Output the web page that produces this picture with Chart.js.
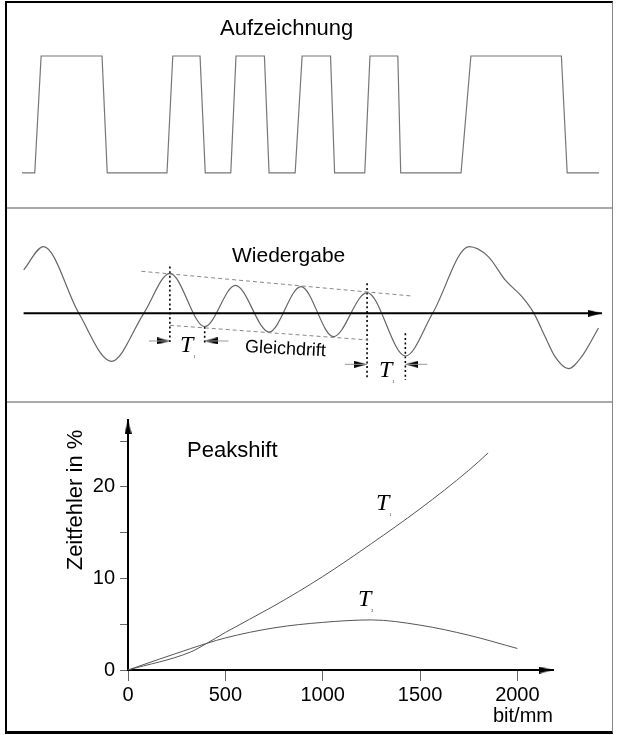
<!DOCTYPE html>
<html>
<head>
<meta charset="utf-8">
<script src="https://cdn.jsdelivr.net/npm/chart.js@4.4.1/dist/chart.umd.min.js"></script>
<style>
  body { margin: 0; background: #fff; width: 617px; height: 735px; position: relative; overflow: hidden;
         font-family: "Liberation Sans", Arial, sans-serif; }
  canvas { position: absolute; left: 0; }
  #rec  { top: 3px; }
  #play { top: 209px; }
  #peak { top: 403px; }
  .frame { position: absolute; left: 5px; top: 1px; width: 605px; height: 728px; z-index: 2;
           border: 2px solid #000; border-right: 1px solid #888; border-bottom-width: 3px; }
  .rule { position: absolute; left: 7px; width: 605px; height: 2px; background: #aaa; z-index: 2; }
  .lbl { position: absolute; white-space: nowrap; line-height: 1; color: #000; z-index: 3; }
  .t { font-family: "Liberation Serif", "Times New Roman", serif; font-style: italic; font-size: 24px; }
  .t sub { font-size: 4px; font-style: normal; vertical-align: -6px; }
</style>
</head>
<body>
<div class="frame"></div>
<div class="rule" style="top:207px"></div>
<div class="rule" style="top:401px"></div>

<canvas id="rec" width="617" height="204"></canvas>
<canvas id="play" width="617" height="192"></canvas>
<canvas id="peak" width="617" height="328"></canvas>

<div class="lbl" style="left:220px; top:17.4px; font-size:22px">Aufzeichnung</div>
<div class="lbl" style="left:232px; top:244px; font-size:21px">Wiedergabe</div>
<div class="lbl" style="left:245px; top:337px; font-size:18px; transform:rotate(3deg); transform-origin:0 50%">Gleichdrift</div>
<div class="lbl t" style="left:180px; top:332px">T<sub>1</sub></div>
<div class="lbl t" style="left:379px; top:357px">T<sub>1</sub></div>

<div class="lbl" style="left:187px; top:439.4px; font-size:22px">Peakshift</div>
<div class="lbl" style="left:75px; top:500px; font-size:22px; transform:translate(-50%,-50%) rotate(-90deg)">Zeitfehler in %</div>
<div class="lbl t" style="left:376px; top:490px">T<sub>1</sub></div>
<div class="lbl t" style="left:358px; top:586px">T<sub>2</sub></div>

<script>
// Aufzeichnung: Schreibstrom, Zeit in willkürlichen Einheiten, Pegel 0 / 1
const recTime  = [0, 2.2, 3.3, 13.8, 14.7, 25.0, 26.0, 30.7, 31.6, 36.0, 36.9, 41.8, 42.6,
                  47.1, 48.3, 53.2, 53.9, 59.1, 60.0, 64.8, 65.3, 75.7, 77.4, 93.0, 94.0, 99.5];
const recLevel = [0, 0, 1, 1, 0, 0, 1, 1, 0, 0, 1, 1, 0,
                  0, 1, 1, 0, 0, 1, 1, 0, 0, 1, 1, 0, 0];

// Wiedergabe: Lesesignal (Spitzen, Nulldurchgänge, Flanken)
const playTime  = [0.3, 3.7, 9.8, 15.4, 21.0, 25.5, 31.5, 36.8, 42.6, 48.1, 53.7, 59.5,
                   66.1, 70.8, 77.1, 80.4, 83.3, 86.2, 88.2, 90.2, 91.9, 94.2, 96.5, 99.4];
const playLevel = [0.65, 1.0, 0, -0.72, 0, 0.60, -0.20, 0.42, -0.28, 0.40, -0.35, 0.31,
                   -0.64, 0, 1.0, 0.85, 0.50, 0.25, 0.01, -0.35, -0.65, -0.83, -0.65, -0.22];

// Hüllkurven der Gleichdrift
const driftUpperTime  = [20.6, 67.1];
const driftUpperLevel = [0.63, 0.26];
const driftLowerTime  = [25.5, 59.7];
const driftLowerLevel = [-0.18, -0.40];

// Markierungen für T: Zeitpunkt, oberes und unteres Ende der Punktlinie
const markTime  = [25.5, 31.5, 59.5, 66.1];
const markTop   = [0.70, -0.20, 0.45, -0.30];
const markBot   = [-0.43, -0.45, -1.0, -1.0];
// Maßpfeile: Höhe, Start, Spitze
const arrowLevel = [-0.415, -0.415, -0.765, -0.765];
const arrowFrom  = [21.9, 35.6, 55.7, 69.9];
const arrowTo    = [25.5, 31.5, 59.5, 66.1];

// Peakshift: Zeitfehler in % über Schreibdichte in bit/mm
const densT1 = [0, 320, 400, 500, 750, 1000, 1250, 1500, 1750, 1850];
const errT1  = [0, 1.95, 2.85, 4.1, 7.0, 10.2, 13.8, 17.6, 21.8, 23.7];
const densT2 = [0, 320, 500, 750, 1000, 1250, 1500, 1750, 2000];
const errT2  = [0, 2.33, 3.5, 4.6, 5.2, 5.47, 4.9, 3.8, 2.35];
const densTicks = [0, 500, 1000, 1500, 2000];
const errTicks  = [0, 5, 10, 15, 20, 25];
const errLabels = [0, 10, 20];

Chart.defaults.font.family = '"Liberation Sans", Arial, sans-serif';

const T_MIN = -3.79, T_MAX = 102.59;
const pts = (xs, ys) => xs.map((x, i) => ({ x: x, y: ys[i] }));

function arrowHead(len, wid) {
    let c = document.createElement('canvas');
    c.width = len * 2;
    c.height = wid;
    let g = c.getContext('2d');
    g.fillStyle = '#000';
    g.beginPath();
    g.moveTo(0, 0);
    g.lineTo(len, wid / 2);
    g.lineTo(0, wid);
    g.closePath();
    g.fill();
    return c;
}
const bigArrow = arrowHead(14, 7);
const midArrow = arrowHead(13, 7);

function lineSet(data, color, width, extra) {
    return Object.assign({
        data: data, borderColor: color, borderWidth: width,
        pointRadius: 0, fill: false, tension: 0
    }, extra || {});
}
function arrowSet(x, y, img, rot) {
    return { data: [{ x: x, y: y }], showLine: false, pointStyle: img,
             pointRadius: 6, rotation: rot, clip: false };
}
function baseOptions(scales) {
    return {
        responsive: false, animation: false, events: [],
        layout: { padding: 0, autoPadding: false },
        plugins: { legend: { display: false }, tooltip: { enabled: false } },
        scales: scales
    };
}
function flatScales(yMin, yMax) {
    return {
        x: { type: 'linear', display: false, min: T_MIN, max: T_MAX },
        y: { type: 'linear', display: false, min: yMin, max: yMax }
    };
}

// Aufzeichnung
new Chart(document.getElementById('rec'), {
    type: 'line',
    data: { datasets: [ lineSet(pts(recTime, recLevel), '#777', 1.2) ] },
    options: baseOptions(flatScales(-0.291, 1.453))
});

// Wiedergabe
let playSets = [
    lineSet(pts([0.28, 100], [0, 0]), '#000', 2),
    arrowSet(100, 0, bigArrow, 0),
    lineSet(pts(playTime, playLevel), '#666', 1.2, { cubicInterpolationMode: 'monotone' }),
    lineSet(pts(driftUpperTime, driftUpperLevel), '#888', 1, { borderDash: [4, 3] }),
    lineSet(pts(driftLowerTime, driftLowerLevel), '#888', 1, { borderDash: [4, 3] })
];
markTime.forEach((t, i) => {
    playSets.push(lineSet(pts([t, t], [markTop[i], markBot[i]]), '#000', 1.6, { borderDash: [2, 2.6] }));
});
arrowFrom.forEach((f, i) => {
    playSets.push(lineSet(pts([f, arrowTo[i]], [arrowLevel[i], arrowLevel[i]]), '#999', 1));
    playSets.push(arrowSet(arrowTo[i], arrowLevel[i], midArrow, arrowTo[i] > f ? 0 : 180));
});
new Chart(document.getElementById('play'), {
    type: 'line',
    data: { datasets: playSets },
    options: baseOptions(flatScales(-1.315, 1.564))
});

// Peakshift
const tickFont = { size: 20 };
let peakOpts = baseOptions({
    x: {
        type: 'linear', min: 0, max: 2183,
        afterFit: s => { s.height = 61; },
        afterBuildTicks: s => { s.ticks = densTicks.map(v => ({ value: v })); },
        border: { display: true, color: '#000', width: 2 },
        grid: { drawOnChartArea: false, drawTicks: true, tickLength: 11, color: '#666', lineWidth: 1 },
        ticks: { autoSkip: false, maxRotation: 0, padding: 2, color: '#000', font: tickFont,
                 callback: v => String(v) },
        title: { display: true, text: 'bit/mm', align: 'end', color: '#000', font: tickFont,
                 padding: { top: 0, bottom: 3 } }
    },
    y: {
        type: 'linear', min: 0, max: 27.3,
        afterFit: s => { s.width = 128; },
        afterBuildTicks: s => { s.ticks = errTicks.map(v => ({ value: v })); },
        border: { display: true, color: '#000', width: 2 },
        grid: { drawOnChartArea: false, drawTicks: true, tickLength: 8, color: '#666', lineWidth: 1 },
        ticks: { autoSkip: false, padding: 5, color: '#000', font: tickFont,
                 callback: v => errLabels.includes(v) ? String(v) : '' }
    }
});
peakOpts.layout.padding = { top: 12, right: 64, left: 0, bottom: 0 };

new Chart(document.getElementById('peak'), {
    type: 'line',
    data: {
        datasets: [
            lineSet(pts(densT1, errT1), '#555', 1, { cubicInterpolationMode: 'monotone' }),
            lineSet(pts(densT2, errT2), '#555', 1, { cubicInterpolationMode: 'monotone' }),
            arrowSet(2183, 0, bigArrow, 0),
            arrowSet(0, 27.3, bigArrow, -90)
        ]
    },
    options: peakOpts
});
</script>
</body>
</html>
